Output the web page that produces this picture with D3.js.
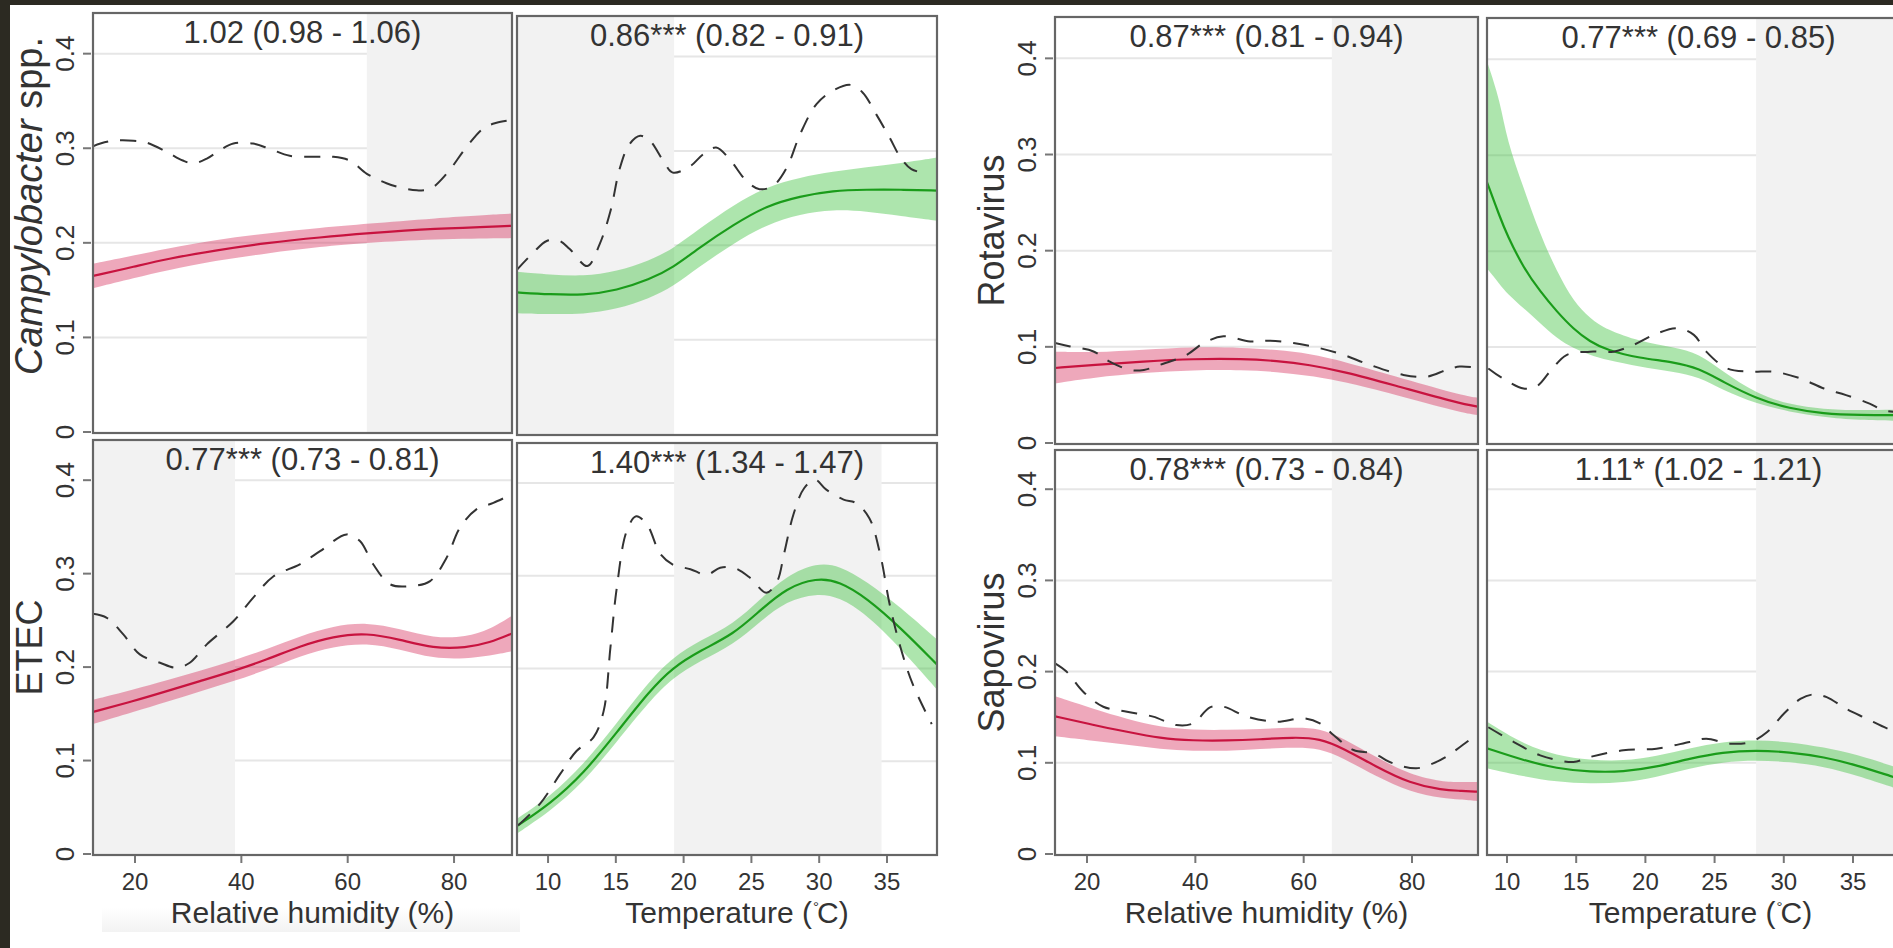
<!DOCTYPE html>
<html>
<head>
<meta charset="utf-8">
<script src="https://cdnjs.cloudflare.com/ajax/libs/d3/7.8.5/d3.min.js"></script>
<style>
  html, body { margin: 0; padding: 0; background: #fff; overflow: hidden; }
  svg { display: block; }
  text { font-family: "Liberation Sans", Arial, sans-serif; fill: #333; }
</style>
</head>
<body>
<svg id="chart" width="1893" height="948"></svg>
<script>
// fitted curves are [x, fit, lower, upper], observed curves are [x, y]
var campyRhFit = [[12.1, 0.165, 0.152, 0.178], [20, 0.175, 0.163, 0.187], [26, 0.183, 0.171, 0.194], [35, 0.192, 0.181, 0.203], [44.8, 0.200, 0.189, 0.210], [55, 0.206, 0.196, 0.216], [63.6, 0.210, 0.200, 0.220], [76, 0.215, 0.204, 0.226], [90.9, 0.218, 0.205, 0.231]];
var campyRhObs = [[12.1, 0.302], [13.5, 0.305], [16, 0.308], [19.7, 0.308], [22.2, 0.306], [26, 0.296], [29, 0.287], [31, 0.284], [33.5, 0.289], [36, 0.298], [38.5, 0.305], [42.2, 0.305], [45.5, 0.299], [49.1, 0.292], [54.2, 0.291], [57.3, 0.291], [60.4, 0.287], [63.6, 0.273], [67.3, 0.263], [71, 0.257], [73, 0.2555], [75.5, 0.257], [78.6, 0.273], [82.3, 0.301], [85.5, 0.321], [88, 0.327], [90.9, 0.330]];
var campyTFit = [[7.7, 0.150, 0.128, 0.172], [10.15, 0.148, 0.127, 0.169], [12.6, 0.147, 0.127, 0.167], [15.07, 0.152, 0.132, 0.172], [17.5, 0.164, 0.144, 0.184], [19.2, 0.176, 0.156, 0.196], [21.2, 0.198, 0.178, 0.218], [23.7, 0.222, 0.202, 0.243], [26.1, 0.242, 0.222, 0.262], [28.6, 0.252, 0.233, 0.272], [31, 0.258, 0.238, 0.278], [33.5, 0.259, 0.236, 0.283], [36, 0.259, 0.231, 0.287], [38.7, 0.258, 0.226, 0.293]];
var campyTObs = [[7.7, 0.174], [8.9, 0.192], [9.9, 0.2046], [10.8, 0.205], [11.6, 0.196], [12.9, 0.178], [13.8, 0.201], [14.6, 0.236], [15.3, 0.282], [16, 0.307], [16.8, 0.316], [17.5, 0.311], [18.5, 0.2895], [19.2, 0.277], [20.5, 0.284], [21.45, 0.2966], [22.4, 0.3036], [23.4, 0.291], [24.65, 0.268], [25.6, 0.2595], [26.6, 0.263], [27.6, 0.282], [28.6, 0.318], [29.8, 0.3496], [31, 0.3637], [32.3, 0.370], [33.2, 0.362], [34.2, 0.339], [35.2, 0.314], [36, 0.293], [36.8, 0.2807], [38, 0.276]];
var etecRhFit = [[12.1, 0.152, 0.139, 0.165], [19.7, 0.1636, 0.152, 0.176], [26, 0.1743, 0.163, 0.186], [32.2, 0.185, 0.174, 0.196], [38.5, 0.1957, 0.185, 0.207], [44.8, 0.208, 0.197, 0.219], [51, 0.2225, 0.212, 0.233], [57.3, 0.233, 0.222, 0.244], [63.6, 0.2367, 0.226, 0.248], [69.8, 0.2296, 0.219, 0.241], [76.1, 0.220, 0.209, 0.231], [82.3, 0.2207, 0.209, 0.232], [86.7, 0.226, 0.212, 0.240], [90.9, 0.236, 0.217, 0.255]];
var etecRhObs = [[12.1, 0.257], [14.7, 0.2527], [17.8, 0.235], [20.9, 0.2136], [24.7, 0.2046], [27.8, 0.1993], [30.3, 0.2046], [33.5, 0.2243], [38.5, 0.249], [42.2, 0.274], [46, 0.297], [51, 0.31], [54.8, 0.324], [59.8, 0.342], [62.3, 0.335], [64.8, 0.31], [68, 0.2885], [71.7, 0.2866], [75.5, 0.292], [78.6, 0.317], [81.1, 0.349], [84.2, 0.3687], [87.4, 0.3757], [90.9, 0.385]];
var etecTFit = [[7.7, 0.030, 0.022, 0.038], [10.15, 0.054, 0.046, 0.062], [12.6, 0.0863, 0.077, 0.096], [15.07, 0.131, 0.121, 0.141], [17.5, 0.176, 0.165, 0.187], [19.2, 0.201, 0.190, 0.212], [21.2, 0.219, 0.208, 0.230], [23.7, 0.237, 0.226, 0.248], [25.6, 0.262, 0.250, 0.274], [27.6, 0.287, 0.273, 0.300], [29.8, 0.2977, 0.281, 0.314], [31.5, 0.294, 0.277, 0.311], [33.5, 0.276, 0.258, 0.294], [36, 0.244, 0.222, 0.266], [38.7, 0.204, 0.177, 0.231]];
var etecTObs = [[7.8, 0.031], [9.4, 0.054], [10.9, 0.0863], [12.1, 0.111], [13.35, 0.1257], [14.1, 0.154], [14.6, 0.2225], [15.07, 0.287], [15.8, 0.348], [16.5, 0.364], [17.3, 0.355], [18.3, 0.323], [19.2, 0.312], [20.5, 0.307], [21.7, 0.301], [22.7, 0.3085], [23.7, 0.3085], [24.9, 0.2977], [26.1, 0.2816], [26.9, 0.294], [27.4, 0.323], [28.1, 0.366], [28.9, 0.3945], [29.7, 0.4035], [30.5, 0.393], [31.8, 0.382], [32.7, 0.3784], [33.7, 0.362], [34.5, 0.323], [35.2, 0.269], [36, 0.2225], [36.9, 0.183], [38.3, 0.140]];
var rotaRhFit = [[14.1, 0.078, 0.062, 0.095], [21.2, 0.0813, 0.068, 0.094], [30.4, 0.0847, 0.073, 0.097], [39.6, 0.0876, 0.076, 0.100], [48.8, 0.0876, 0.076, 0.099], [55, 0.0855, 0.074, 0.097], [61.1, 0.0813, 0.070, 0.093], [67.3, 0.0743, 0.064, 0.085], [76.5, 0.0604, 0.051, 0.070], [88.8, 0.0411, 0.032, 0.050], [92.2, 0.0377, 0.029, 0.047]];
var rotaRhObs = [[14.1, 0.104], [16.9, 0.1004], [21.2, 0.0952], [24.2, 0.0847], [27.9, 0.076], [30.5, 0.076], [33.5, 0.0813], [38.4, 0.0917], [41.5, 0.1039], [45.2, 0.1109], [50.1, 0.1056], [53.8, 0.1064], [58.1, 0.1039], [63, 0.0986], [67.3, 0.0917], [72.2, 0.0813], [78.4, 0.0708], [82.7, 0.069], [86.4, 0.076], [88.8, 0.0795], [91.5, 0.0785]];
var rotaTFit = [[8.55, 0.272, 0.182, 0.398], [9.5, 0.235, 0.165, 0.357], [10, 0.217, 0.156, 0.315], [11.2, 0.1823, 0.1405, 0.266], [12.4, 0.158, 0.1248, 0.217], [13.6, 0.137, 0.109, 0.179], [14.8, 0.1188, 0.0986, 0.1475], [16, 0.1056, 0.0917, 0.130], [17.2, 0.097, 0.0865, 0.118], [19.6, 0.0882, 0.0795, 0.1056], [22, 0.0847, 0.0743, 0.100], [23.9, 0.0777, 0.069, 0.0934], [25.6, 0.0638, 0.0551, 0.0743], [28, 0.0463, 0.0411, 0.0516], [30.4, 0.0359, 0.0324, 0.040], [32.9, 0.0306, 0.027, 0.035], [35.3, 0.029, 0.0237, 0.034], [39.1, 0.029, 0.023, 0.035]];
var rotaTObs = [[8.65, 0.0777], [9.7, 0.0673], [11.2, 0.0568], [12.1, 0.0586], [13.1, 0.0743], [14.3, 0.0917], [16, 0.0952], [17.7, 0.0952], [19.1, 0.102], [20.6, 0.1127], [22.3, 0.1196], [23.5, 0.1127], [24.4, 0.0952], [25.9, 0.0777], [27.6, 0.0743], [29.3, 0.0743], [31.2, 0.0673], [32.9, 0.0568], [34.5, 0.0499], [36.2, 0.0411], [37.2, 0.0342], [38.5, 0.032]];
var sapoRhFit = [[14.1, 0.151, 0.129, 0.173], [21.2, 0.1414, 0.124, 0.159], [27.4, 0.134, 0.120, 0.148], [33.5, 0.1268, 0.115, 0.139], [39.6, 0.1243, 0.113, 0.136], [45.8, 0.1243, 0.113, 0.136], [51.9, 0.1257, 0.115, 0.137], [58.1, 0.128, 0.117, 0.139], [63, 0.1268, 0.116, 0.138], [67.3, 0.116, 0.105, 0.127], [73.4, 0.0957, 0.085, 0.106], [79.6, 0.0775, 0.068, 0.087], [85.7, 0.070, 0.061, 0.079], [88.8, 0.0694, 0.060, 0.079], [92.2, 0.0683, 0.058, 0.079]];
var sapoRhObs = [[14.1, 0.209], [16.2, 0.200], [19.3, 0.178], [23, 0.1615], [27.4, 0.156], [32.2, 0.1506], [36.5, 0.1414], [39.6, 0.1433], [42.7, 0.1608], [45.2, 0.1615], [49.5, 0.1506], [55, 0.145], [59.9, 0.1488], [63, 0.1433], [65.5, 0.1305], [69.2, 0.114], [72.8, 0.1104], [76.5, 0.0994], [80.8, 0.094], [83.9, 0.0994], [86.4, 0.107], [88.8, 0.117], [91.5, 0.129]];
var sapoTFit = [[8.55, 0.116, 0.094, 0.145], [11.2, 0.1027, 0.085, 0.120], [13.6, 0.0937, 0.079, 0.108], [16, 0.090, 0.077, 0.103], [18.4, 0.090, 0.078, 0.102], [20.8, 0.0954, 0.084, 0.107], [23.2, 0.1046, 0.094, 0.116], [25.6, 0.1118, 0.101, 0.123], [28, 0.1137, 0.103, 0.125], [30.4, 0.1118, 0.101, 0.123], [32.9, 0.1064, 0.096, 0.117], [35.3, 0.0973, 0.086, 0.109], [37.9, 0.0845, 0.073, 0.096], [39.1, 0.079, 0.067, 0.091]];
var sapoTObs = [[8.65, 0.139], [10.5, 0.1228], [12.4, 0.1082], [14.8, 0.1009], [16, 0.1064], [18.4, 0.1137], [20.8, 0.1155], [23.2, 0.1228], [24.4, 0.1264], [26.1, 0.121], [27.6, 0.1228], [28.8, 0.1337], [30, 0.1537], [31.2, 0.170], [32.1, 0.1749], [33.1, 0.172], [34.5, 0.1592], [36, 0.1483], [37.5, 0.1374], [39, 0.128]];

// grey bands: [from, to]
var shades = [[63.6, 100], [0, 19.3], [0, 38.8], [19.3, 34.6], [65.2, 100], [28, 50], [65.2, 100], [28, 50]];
var titles = ['1.02 (0.98 - 1.06)', '0.86*** (0.82 - 0.91)', '0.77*** (0.73 - 0.81)', '1.40*** (1.34 - 1.47)',
  '0.87*** (0.81 - 0.94)', '0.77*** (0.69 - 0.85)', '0.78*** (0.73 - 0.84)', '1.11* (1.02 - 1.21)'];
var yTicks = [0, 0.1, 0.2, 0.3, 0.4];
var rhTicks = [20, 40, 60, 80];
var tempTicks = [10, 15, 20, 25, 30, 35];

var redLine = '#c8133f', redBand = '#d6305c', greenLine = '#1a9c1a', greenBand = '#3cc03c';

var panels = [
  {x0: 93, x1: 512, y0: 13, y1: 433, dom: [12.1, 90.9], fit: campyRhFit, obs: campyRhObs, hum: true, ylab: 'campy', labY: 206},
  {x0: 517, x1: 937, y0: 16, y1: 435, dom: [7.71, 38.69], fit: campyTFit, obs: campyTObs, hum: false},
  {x0: 93, x1: 512, y0: 440, y1: 855, dom: [12.1, 90.9], fit: etecRhFit, obs: etecRhObs, hum: true, ylab: 'ETEC', xlab: true, labDx: 10},
  {x0: 517, x1: 937, y0: 443, y1: 855, dom: [7.71, 38.69], fit: etecTFit, obs: etecTObs, hum: false, xlab: true, labDx: 10},
  {x0: 1055, x1: 1478, y0: 17, y1: 444, dom: [14.09, 92.18], fit: rotaRhFit, obs: rotaRhObs, hum: true, ylab: 'Rotavirus'},
  {x0: 1487, x1: 1910, y0: 18, y1: 444, dom: [8.555, 39.12], fit: rotaTFit, obs: rotaTObs, hum: false},
  {x0: 1055, x1: 1478, y0: 450, y1: 855, dom: [14.09, 92.18], fit: sapoRhFit, obs: sapoRhObs, hum: true, ylab: 'Sapovirus', xlab: true, labDx: 0},
  {x0: 1487, x1: 1910, y0: 450, y1: 855, dom: [8.555, 39.12], fit: sapoTFit, obs: sapoTObs, hum: false, xlab: true, labDx: 2}
];

var svg = d3.select('#chart');
var defs = svg.append('defs');

svg.append('rect').attr('width', 1893).attr('height', 948).attr('fill', '#fff');

// faint shadow under the left humidity label
var grad = defs.append('linearGradient').attr('id', 'fade').attr('x1', 0).attr('x2', 0).attr('y1', 0).attr('y2', 1);
grad.append('stop').attr('offset', 0).attr('stop-color', '#fff');
grad.append('stop').attr('offset', 1).attr('stop-color', '#f3f3f3');
svg.append('rect').attr('x', 102).attr('y', 908).attr('width', 418).attr('height', 24).attr('fill', 'url(#fade)');

panels.forEach(function(p, i) {
  var x, y, g, sh, area, line, obsLine, col, band;
  x = d3.scaleLinear().domain(p.dom).range([p.x0, p.x1]);
  y = d3.scaleLinear().domain([0, 0.443]).range([p.y1 - 1, p.y0]);
  col = p.hum ? redLine : greenLine;
  band = p.hum ? redBand : greenBand;

  defs.append('clipPath').attr('id', 'clip' + i).append('rect')
    .attr('x', p.x0).attr('y', p.y0).attr('width', p.x1 - p.x0).attr('height', p.y1 - p.y0);

  g = svg.append('g').attr('clip-path', 'url(#clip' + i + ')');
  g.append('rect').attr('x', p.x0).attr('y', p.y0).attr('width', p.x1 - p.x0).attr('height', p.y1 - p.y0).attr('fill', '#fff');

  g.selectAll('.grid').data(yTicks.slice(1)).enter().append('line')
    .attr('x1', p.x0).attr('x2', p.x1)
    .attr('y1', function(d) { return y(d); }).attr('y2', function(d) { return y(d); })
    .attr('stroke', '#e6e6e6').attr('stroke-width', 2);

  sh = shades[i];
  g.append('rect')
    .attr('x', x(Math.max(sh[0], p.dom[0])))
    .attr('width', x(Math.min(sh[1], p.dom[1] + 5)) - x(Math.max(sh[0], p.dom[0])))
    .attr('y', p.y0).attr('height', p.y1 - p.y0)
    .attr('fill', '#f2f2f2');

  area = d3.area().curve(d3.curveBasis)
    .x(function(d) { return x(d[0]); })
    .y0(function(d) { return y(d[2]); })
    .y1(function(d) { return y(d[3]); });
  g.append('path').attr('d', area(p.fit)).attr('fill', band).attr('fill-opacity', 0.42);

  line = d3.line().curve(d3.curveBasis)
    .x(function(d) { return x(d[0]); })
    .y(function(d) { return y(d[1]); });
  g.append('path').attr('d', line(p.fit)).attr('fill', 'none').attr('stroke', col).attr('stroke-width', 2.2);

  obsLine = d3.line().curve(d3.curveCatmullRom)
    .x(function(d) { return x(d[0]); })
    .y(function(d) { return y(d[1]); });
  g.append('path').attr('d', obsLine(p.obs)).attr('fill', 'none')
    .attr('stroke', '#333').attr('stroke-width', 2).attr('stroke-dasharray', '16,12');

  svg.append('rect').attr('x', p.x0).attr('y', p.y0).attr('width', p.x1 - p.x0).attr('height', p.y1 - p.y0)
    .attr('fill', 'none').attr('stroke', '#666').attr('stroke-width', 2.2);

  svg.append('text').attr('x', (p.x0 + p.x1) / 2).attr('y', p.y0 + 30)
    .attr('text-anchor', 'middle').attr('font-size', 31).text(titles[i]);

  if (p.ylab) {
    svg.selectAll(null).data(yTicks).enter().append('line')
      .attr('x1', p.x0 - 10).attr('x2', p.x0 - 2)
      .attr('y1', function(d) { return y(d); }).attr('y2', function(d) { return y(d); })
      .attr('stroke', '#777').attr('stroke-width', 2);
    svg.selectAll(null).data(yTicks).enter().append('text')
      .attr('transform', function(d) { return 'translate(' + (p.x0 - 19) + ',' + y(d) + ')rotate(-90)'; })
      .attr('text-anchor', 'middle').attr('font-size', 26).attr('fill', '#444')
      .text(function(d) { return d3.format('')(d); });

    var lab = svg.append('text')
      .attr('transform', 'translate(' + (p.x0 - 51) + ',' + (p.labY || (p.y0 + p.y1) / 2) + ')rotate(-90)')
      .attr('text-anchor', 'middle').attr('font-size', p.ylab === 'campy' ? 38 : 36).attr('fill', '#222');
    if (p.ylab === 'campy') {
      lab.append('tspan').attr('font-style', 'italic').text('Campylobacter');
      lab.append('tspan').text(' spp.');
    } else {
      lab.text(p.ylab);
    }
  }

  if (p.xlab) {
    var ticks = p.hum ? rhTicks : tempTicks;
    var cx = (p.x0 + p.x1) / 2 + p.labDx;
    svg.selectAll(null).data(ticks).enter().append('line')
      .attr('x1', function(d) { return x(d); }).attr('x2', function(d) { return x(d); })
      .attr('y1', p.y1 + 1).attr('y2', p.y1 + 8)
      .attr('stroke', '#777').attr('stroke-width', 2);
    svg.selectAll(null).data(ticks).enter().append('text')
      .attr('x', function(d) { return x(d); }).attr('y', p.y1 + 35)
      .attr('text-anchor', 'middle').attr('font-size', 24).attr('fill', '#444')
      .text(function(d) { return d; });
    var t = svg.append('text').attr('x', cx).attr('y', p.y1 + 68)
      .attr('text-anchor', 'middle').attr('font-size', 30).attr('fill', '#222');
    if (p.hum) {
      t.text('Relative humidity (%)');
    } else {
      // degree sign sits raised between "(" and "C"
      t.append('tspan').text('Temperature (');
      t.append('tspan').attr('dx', 5).text('C)');
      var pre = t.node().getSubStringLength(0, 13);
      var bb = t.node().getBBox();
      svg.append('text').attr('x', bb.x + pre + 1).attr('y', p.y1 + 57)
        .attr('font-size', 15).attr('fill', '#222').text('°');
    }
  }
});

// dark edges of the pasted figure
svg.append('rect').attr('x', 0).attr('y', 0).attr('width', 1893).attr('height', 5).attr('fill', '#2c2a22');
svg.append('rect').attr('x', 0).attr('y', 0).attr('width', 10).attr('height', 948).attr('fill', '#2c2a22');
</script>
</body>
</html>
